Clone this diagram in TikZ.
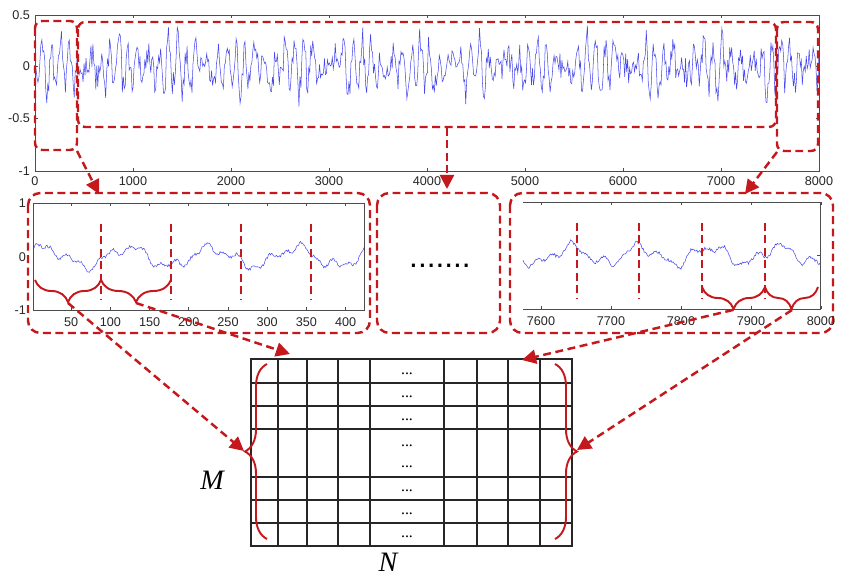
\documentclass[tikz,border=0pt]{standalone}
\usepackage{fontspec}
\setsansfont{Liberation Sans}
\setmainfont{Liberation Serif}
\usetikzlibrary{arrows.meta,decorations.pathreplacing}

\definecolor{dred}{RGB}{196,24,28}
\definecolor{sigblue}{RGB}{72,72,235}

\tikzset{
  redline/.style={dred,line width=1.4pt,dash pattern=on 4.5pt off 2.6pt},
  redbox/.style={redline,rounded corners=4pt},
  conn/.style={redline,-{Triangle[length=8pt,width=8pt]}},
  sig/.style={sigblue,line width=0.3pt},
  frame/.style={black!70,line width=0.5pt},
  tick/.style={black!70,line width=0.4pt},
  tlab/.style={font=\sffamily\fontsize{7.2}{8}\selectfont,text=black!85,inner sep=1pt},
  gridline/.style={black!85,line width=0.7pt},
  dotlab/.style={font=\fontsize{9}{9}\selectfont,inner sep=0pt},
  bracedown/.style={dred,line width=1.1pt,decorate,decoration={brace,mirror,amplitude=0.44cm}},
  braceup/.style={dred,line width=1.1pt,decorate,decoration={brace,amplitude=0.44cm}},
}

\begin{document}
\begin{tikzpicture}[x=0.02cm,y=-0.02cm]
\useasboundingbox (0,0) rectangle (850,577);
\pgfmathsetseed{11}

\draw[sig] plot[domain=35:819,samples=800] (\x,{66-104*(0.13*sin(37*mod(\x,360))+0.1*sin(43*mod(\x,360)+20)+0.06*sin(13*\x)+0.14*rand)});
\draw[frame] (35,15) rectangle (819,171);
\foreach \i in {1,...,7} {
  \draw[tick] ({35+98*\i},15) -- ++(0,3);
  \draw[tick] ({35+98*\i},171) -- ++(0,-3);
}
\foreach \ty in {66,118} {
  \draw[tick] (35,\ty) -- ++(3,0);
  \draw[tick] (819,\ty) -- ++(-3,0);
}
\foreach \v [count=\i from 0] in {0,1000,2000,3000,4000,5000,6000,7000,8000}
  \node[tlab,anchor=north] (tx\i) at ({35+98*\i},175) {\v};
\node[tlab,anchor=east] (ty1) at (32,15) {0.5};
\node[tlab,anchor=east] (ty2) at (32,66) {0};
\node[tlab,anchor=east] (ty3) at (32,118) {-0.5};
\node[tlab,anchor=east] (ty4) at (32,171) {-1};

\draw[redbox] (35,21) rectangle (77,150);
\draw[redbox] (78,22) rectangle (776,127);
\draw[redbox] (777,22) rectangle (818,151);

\draw[redbox,rounded corners=7pt] (28,193) rectangle (370,333);
\draw[redbox,rounded corners=7pt] (377,193) rectangle (500,333);
\draw[redbox,rounded corners=7pt] (510,193) rectangle (833,333);
\node[font=\sffamily\fontsize{18}{18}\selectfont] (more) at (440,266) {.......};

\draw[sig] plot[domain=33:364,samples=330] (\x,{257-53*(0.17*sin(4.3*\x-100)+0.07*sin(11*\x)+0.05*sin(23*\x)+0.03*rand)});
\draw[frame] (33,203) rectangle (364,310);
\foreach \v in {50,100,...,400} {
  \draw[tick] ({32+0.784*\v},203) -- ++(0,3);
  \draw[tick] ({32+0.784*\v},310) -- ++(0,-3);
  \node[tlab,anchor=north] at ({32+0.784*\v},316) {\v};
}
\node[tlab,anchor=east] (ly1) at (28,203) {1};
\node[tlab,anchor=east] (ly2) at (28,257) {0};
\node[tlab,anchor=east] (ly3) at (28,310) {-1};
\foreach \cx in {101,171,241,311}
  \draw[redline] (\cx,224) -- (\cx,300);
\draw[bracedown] (35,280) -- (101,280);
\draw[bracedown] (101,280) -- (171,280);

\draw[sig] plot[domain=523:820,samples=300] (\x,{255-53*(0.15*sin(5.2*\x)+0.07*sin(12*\x+50)+0.05*sin(21*mod(\x,360))+0.03*rand)});
\draw[frame] (523,202) -- (820,202) -- (820,309) -- (523,309);
\foreach \v in {7600,7700,...,8000} {
  \draw[tick] ({541+0.7*(\v-7600)},202) -- ++(0,3);
  \draw[tick] ({541+0.7*(\v-7600)},309) -- ++(0,-3);
  \node[tlab,anchor=north] at ({541+0.7*(\v-7600)},315) {\v};
}
\draw[tick] (820,255) -- ++(-3,0);
\foreach \cx in {577,639,702,765}
  \draw[redline] (\cx,223) -- (\cx,298);
\draw[bracedown] (702,287) -- (765,287);
\draw[bracedown] (765,287) -- (818,287);

\draw[gridline] (251,359) rectangle (572,546);
\foreach \gx in {278,307,338,370,444,477,508,540}
  \draw[gridline] (\gx,359) -- (\gx,546);
\foreach \gy in {383,406,429,477,500,523}
  \draw[gridline] (251,\gy) -- (572,\gy);
\foreach \dy [count=\i] in {374,397,420,446,467,491,514,537}
  \node[dotlab] (d\i) at (407,\dy) {...};
\draw[bracedown] (267,364) -- (267,539);
\draw[braceup] (555,364) -- (555,539);
\node[font=\itshape\fontsize{16}{16}\selectfont] (M) at (212,480) {M};
\node[font=\itshape\fontsize{16}{16}\selectfont] (N) at (388,562) {N};

\coordinate (tL) at (77,151);
\coordinate (sL) at (99,194);
\coordinate (tM) at (447,128);
\coordinate (sM) at (447,189);
\coordinate (tR) at (777,152);
\coordinate (sR) at (745,194);
\coordinate (bA) at (68,303);
\coordinate (bB) at (136,303);
\coordinate (bC) at (733,310);
\coordinate (bD) at (792,310);
\coordinate (mL) at (244,451);
\coordinate (mTL) at (290,354);
\coordinate (mTR) at (522,360);
\coordinate (mR) at (577,450);

\draw[conn] (tL) -- (sL);
\draw[conn] (tM) -- (sM);
\draw[conn] (tR) -- (sR);
\draw[conn] (bA) -- (mL);
\draw[conn] (bB) -- (mTL);
\draw[conn] (bC) -- (mTR);
\draw[conn] (bD) -- (mR);
\end{tikzpicture}
\end{document}
